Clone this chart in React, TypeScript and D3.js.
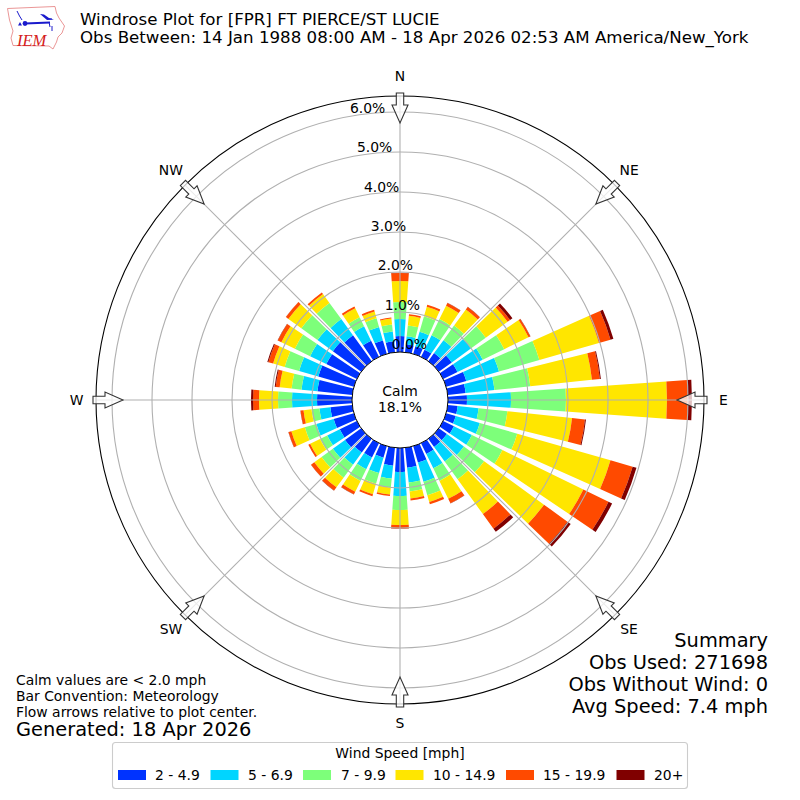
import React from "react";
import * as d3 from "d3";

const directions = d3.range(0, 360, 10);
const speedLabels = ["2 - 4.9", "5 - 6.9", "7 - 9.9", "10 - 14.9", "15 - 19.9", "20+"];
const speedColors = ["#0033ff", "#00d5ff", "#7dff7a", "#ffe600", "#ff4a00", "#800000"];
const s2to5 = [.40,.20,.20,.20,.25,.40,.40,.525,.45,.475,.25,.25,.30,.25,.25,.30,.425,.50,.60,.45,.30,.40,.425,.50,.475,.525,.55,.875,.875,.925,.85,.875,.80,.45,.35,.275];
const s5to7 = [.425,.2,.375,.4,.4,.6,.7,.85,.725,1.1,.525,.625,.5,.525,.45,.4,.5,.375,.6,.325,.4,.325,.375,.375,.35,.45,.275,.625,.4,.5,.45,.475,.5,.4,.35,.25];
const s7to10 = [.425,.275,.4,.45,.45,.45,.6,1.05,.9,1.375,.725,.975,.85,.625,.55,.35,.35,.225,.35,.225,.275,.325,.4,.35,.2,.3,.2,.35,.25,.375,.425,.5,.5,.25,.225,.175];
const s10to15 = [.525,.24,.25,.375,.5,.675,.675,1.55,1.55,2.525,1.625,2.425,2.25,1.85,1.075,.5,.175,.175,.375,.175,.275,.3,.3,.225,.275,.35,.2,.475,.3,.3,.375,.4,.275,.25,.175,.15];
const s15to20 = [.2,.04,.05,.075,.075,.075,.05,.3,.2,.525,.325,.575,.7,.725,.45,.125,.06,.05,.09,.04,.05,.075,.1,.1,.05,.075,.075,.15,.1,.125,.1,.075,.05,.05,.05,.025];
const s20up = [.005,0,.005,.005,.005,.075,.005,.075,.025,.1,.025,.1,.1,.1,.1,.005,0,0,.005,0,0,.005,.005,.005,0,.005,.005,.05,.025,.025,.005,.005,0,0,0,0];
const series = [s2to5, s5to7, s7to10, s10to15, s15to20, s20up];
const ringTicks = [0, 1, 2, 3, 4, 5, 6];
const compassLabels = ["N", "NE", "E", "SE", "S", "SW", "W", "NW"];
const compassAngles = d3.range(0, 360, 45);
const titleLines = [
  "Windrose Plot for [FPR] FT PIERCE/ST LUCIE",
  "Obs Between: 14 Jan 1988 08:00 AM - 18 Apr 2026 02:53 AM America/New_York",
];
const summaryLines = ["Summary", "Obs Used: 271698", "Obs Without Wind: 0", "Avg Speed: 7.4 mph"];
const noteLines = ["Calm values are < 2.0 mph", "Bar Convention: Meteorology", "Flow arrows relative to plot center."];
const generated = "Generated: 18 Apr 2026";
const calmText = ["Calm", "18.1%"];

const FONT = "'DejaVu Sans', sans-serif";
const cx = 400;
const cy = 400;
const rMax = 6.4;
const r = d3.scaleLinear().domain([0, rMax]).range([48, 304]);
const toRad = (deg: number) => (deg * Math.PI) / 180;
const GRID = "#b0b0b0";

export default function App() {
  const barHalf = 4;
  const arc = d3.arc();
  const stackedRows = directions.map((_, i) => {
    const row: Record<string, number> = {};
    series.forEach((s, k) => (row[k] = s[i]));
    return row;
  });
  const stack = d3.stack<Record<string, number>>().keys(series.map((_, k) => String(k)))(stackedRows);

  const arrowPath = (() => {
    const tail = r(rMax) + 3;
    const tip = r(rMax) - 27;
    const neck = r(rMax) - 9;
    const p = d3.path();
    p.moveTo(-3.7, -tail);
    p.lineTo(3.7, -tail);
    p.lineTo(3.7, -neck);
    p.lineTo(8, -neck);
    p.lineTo(0, -tip);
    p.lineTo(-8, -neck);
    p.lineTo(-3.7, -neck);
    p.closePath();
    return p.toString();
  })();

  const legendSwatchX = [118, 210.5, 303, 395.5, 506, 616.5];
  const legendTextX = [155, 248, 341, 433, 543, 654];

  return (
    <svg width={800} height={800} viewBox="0 0 800 800" style={{ position: "absolute", left: 0, top: 0 }} fontFamily={FONT}>
      <rect x={0} y={0} width={800} height={800} fill="#fff" />
      {/* logo */}
      <g>
        <path d="M7.5,8.5 L55,6.5 L56.5,13 L59,18 L64.5,26 L62,33 L58,37 L56.5,42 L53,49 L49,46 L13,45.5 L11,38 L13,31 L9.5,20 Z" fill="none" stroke="#e88a8a" strokeWidth={0.9} />
        <path d="M25,23.5 L50,22.5" stroke="#1a1acc" strokeWidth={2} fill="none" />
        <path d="M40,14 L44,14.5 L49,18 L54,19.5 L47,20 Z" fill="#1a1acc" />
        <path d="M17,11 L19.5,16 L22,20 M49,22 L50,27 M52,26 L52,31 M48,19 L52,19" stroke="#1a1acc" strokeWidth={1} fill="none" />
        <circle cx={25} cy={23.5} r={2.4} fill="#1a1acc" />
        <path d="M20,22 L22,25.5 L18,25.5 Z" fill="#1a1acc" />
        <text x={17} y={45.5} fontFamily="'Liberation Serif', serif" fontStyle="italic" fontSize={16.5} fill="#d42020">IEM</text>
      </g>

      {/* titles */}
      {titleLines.map((t, i) => (
        <text key={i} x={80} y={25 + i * 18.4} fontSize={16.67} fill="#000">{t}</text>
      ))}

      {/* bars */}
      <g transform={`translate(${cx},${cy})`}>
        {stack.map((layer, k) => (
          <g key={k} fill={speedColors[k]}>
            {layer.map((d, i) => {
              if (d[1] - d[0] <= 0) return null;
              const a = toRad(directions[i]);
              return (
                <path
                  key={i}
                  d={arc({
                    innerRadius: r(d[0]),
                    outerRadius: r(d[1]),
                    startAngle: a - toRad(barHalf),
                    endAngle: a + toRad(barHalf),
                  }) as string}
                />
              );
            })}
          </g>
        ))}

        {/* grid */}
        {ringTicks.slice(1).map((t) => (
          <circle key={t} r={r(t)} fill="none" stroke={GRID} strokeWidth={1.1} />
        ))}
        {compassAngles.map((a) => (
          <line
            key={a}
            x1={r(0) * Math.sin(toRad(a))}
            y1={-r(0) * Math.cos(toRad(a))}
            x2={r(rMax) * Math.sin(toRad(a))}
            y2={-r(rMax) * Math.cos(toRad(a))}
            stroke={GRID}
            strokeWidth={1.1}
          />
        ))}
        <circle r={r(rMax)} fill="none" stroke="#000" strokeWidth={1.1} />
        <circle r={r(0)} fill="#fff" stroke="#000" strokeWidth={1} />

        {/* flow arrows */}
        {compassAngles.map((a) => (
          <path key={a} d={arrowPath} transform={`rotate(${a})`} fill="#fff" fillOpacity={0.75} stroke="#333" strokeWidth={1.1} strokeLinejoin="miter" />
        ))}

        {/* radial labels */}
        {ringTicks.map((t) => (
          <text
            key={t}
            x={-r(t) * Math.sin(toRad(10))}
            y={-r(t) * Math.cos(toRad(10)) - 3.5}
            fontSize={13.9}
            fill="#000"
          >
            {`${t.toFixed(1)}%`}
          </text>
        ))}

        {/* compass labels */}
        {compassLabels.map((c, i) => {
          const a = toRad(compassAngles[i]);
          const rr = i % 2 === 0 ? 323.5 : 324;
          return (
            <text key={c} x={rr * Math.sin(a)} y={-rr * Math.cos(a) - 0.5} fontSize={13.9} textAnchor="middle" dominantBaseline="central" fill="#000">{c}</text>
          );
        })}

        {calmText.map((t, i) => (
          <text key={t} x={0} y={-4 + i * 16} fontSize={13.9} textAnchor="middle" fill="#000">{t}</text>
        ))}
      </g>

      {/* summary */}
      {summaryLines.map((t, i) => (
        <text key={t} x={768} y={646.5 + i * 22.3} fontSize={19.4} textAnchor="end" fill="#000">{t}</text>
      ))}

      {/* notes */}
      {noteLines.map((t, i) => (
        <text key={t} x={16} y={685 + i * 16} fontSize={13.9} fill="#000">{t}</text>
      ))}
      <text x={16} y={736} fontSize={19.4} fill="#000">{generated}</text>

      {/* legend */}
      <rect x={112.5} y={742.5} width={575} height={46} rx={3} fill="#fff" fillOpacity={0.8} stroke="#ccc" strokeWidth={1.1} />
      <text x={400} y={758} fontSize={13.9} textAnchor="middle" fill="#000">Wind Speed [mph]</text>
      {speedLabels.map((t, i) => (
        <g key={t}>
          <rect x={legendSwatchX[i]} y={770} width={28} height={10} fill={speedColors[i]} />
          <text x={legendTextX[i]} y={780} fontSize={13.9} fill="#000">{t}</text>
        </g>
      ))}
    </svg>
  );
}
